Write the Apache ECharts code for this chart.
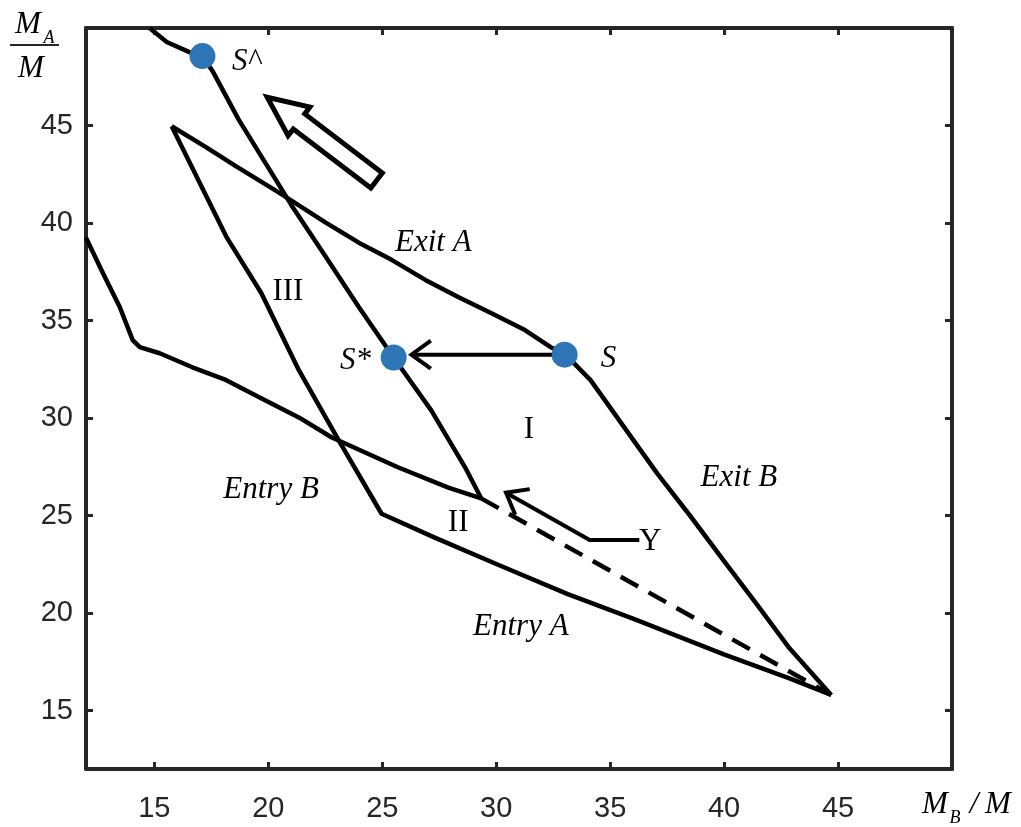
<!DOCTYPE html>
<html>
<head>
<meta charset="utf-8">
<title>Exit and entry boundaries</title>
<script src="https://cdn.jsdelivr.net/npm/echarts@6/dist/echarts.min.js"></script>
<style>
  html, body { margin: 0; padding: 0; background: #ffffff; }
  #chart { width: 1021px; height: 827px; }
</style>
</head>
<body>
<div id="chart"></div>
<script>
// Tick values on both axes
const xTicks = [15, 20, 25, 30, 35, 40, 45];
const yTicks = [15, 20, 25, 30, 35, 40, 45];

// Boundary curves as [M_B/M, M_A/M] pairs
const entryBCurve = [[12.0, 39.24], [12.74, 37.44], [13.48, 35.69], [14.05, 33.99], [14.36, 33.63],
  [15.23, 33.32], [16.67, 32.60], [18.16, 31.94], [19.6, 31.06], [21.34, 30.03], [22.79, 29.0],
  [25.71, 27.46], [27.9, 26.43], [29.34, 25.88]];
const entryBDashed = [[29.34, 25.88], [44.7, 15.8]];
const shiftedCurve = [[14.79, 50.0], [15.54, 49.28], [16.54, 48.76], [17.11, 48.56], [17.55, 47.8],
  [18.7, 45.3], [21.0, 40.94], [22.52, 38.27], [23.97, 35.69], [25.49, 33.12], [27.15, 30.39],
  [28.64, 27.46], [29.34, 25.88]];
const entryACurve = [[15.76, 44.96], [18.16, 39.29], [19.69, 36.41], [21.34, 32.45], [23.09, 28.85],
  [24.97, 25.09], [27.33, 23.85], [30.21, 22.41], [33.14, 20.97], [36.06, 19.69], [39.99, 17.88],
  [42.87, 16.65], [44.7, 15.8]];
const exitCurve = [[15.76, 44.96], [17.28, 43.88], [18.59, 42.90], [20.47, 41.56], [22.52, 40.02],
  [23.97, 38.99], [25.41, 38.11], [26.89, 37.08], [28.33, 36.21], [29.77, 35.38], [31.26, 34.51],
  [32.39, 33.63], [33.0, 33.3], [34.14, 31.94], [35.62, 29.52], [37.07, 27.15], [38.5, 25.0],
  [39.99, 22.67], [41.43, 20.46], [42.87, 18.19], [44.7, 15.8]];

// Equilibrium points
const pointNames = ['S^', 'S*', 'S'];
const pointValues = [[17.11, 48.56], [25.5, 33.1], [33.0, 33.25]];

// Arrows: S toward S*, pointer from label Y, and the hollow shift arrow
const moveArrow = [[33.0, 33.25], [26.28, 33.25]];
const pointerArrow = [[36.28, 23.75], [34.1, 23.75], [30.43, 26.17]];
const shiftArrow = [[24.75, 42.18], [19.95, 46.45]];

// Text annotations: [text, x, y, italic]
const annotations = [
  ['S^', 19.03, 48.25, true],
  ['S*', 23.83, 32.92, true],
  ['S', 34.93, 33.02, true],
  ['Exit A', 27.24, 38.99, true],
  ['Exit B', 40.65, 26.95, true],
  ['Entry B', 20.12, 26.33, true],
  ['Entry A', 31.08, 19.28, true],
  ['I', 31.43, 29.37, false],
  ['II', 28.33, 24.63, false],
  ['III', 20.86, 36.47, false],
  ['Y', 36.76, 23.65, false]
];

const ink = '#262626';
const serif = '"Liberation Serif", "Times New Roman", serif';
const sans = '"Liberation Sans", Arial, sans-serif';

function curve(data, dashed) {
  return {
    type: 'line', data: data, showSymbol: false, silent: true, z: 2,
    lineStyle: { color: '#000', width: 4.5, type: dashed ? [20, 12] : 'solid', cap: 'butt', join: 'round' }
  };
}

function vHead(tip, from, len, angleDeg) {
  const dx = from[0] - tip[0], dy = from[1] - tip[1];
  const d = Math.hypot(dx, dy);
  const ux = dx / d, uy = dy / d;
  const a = angleDeg * Math.PI / 180;
  const rot = (s) => [tip[0] + len * (ux * Math.cos(s * a) - uy * Math.sin(s * a)),
                      tip[1] + len * (ux * Math.sin(s * a) + uy * Math.cos(s * a))];
  return [rot(1), tip, rot(-1)];
}

const option = {
  animation: false,
  backgroundColor: '#ffffff',
  grid: { left: 86, right: 69, top: 28, bottom: 58, containLabel: false },
  xAxis: [
    {
      type: 'value', min: 12, max: 50, position: 'bottom',
      axisLine: { show: true, onZero: false, lineStyle: { color: ink, width: 4 } },
      axisTick: { show: true, inside: true, length: 7, customValues: xTicks, lineStyle: { color: ink, width: 3 } },
      axisLabel: { show: true, customValues: xTicks, color: ink, fontSize: 29, fontFamily: sans, margin: 25 },
      splitLine: { show: false }
    },
    {
      type: 'value', min: 12, max: 50, position: 'top',
      axisLine: { show: true, onZero: false, lineStyle: { color: ink, width: 4 } },
      axisTick: { show: true, inside: true, length: 7, customValues: xTicks, lineStyle: { color: ink, width: 3 } },
      axisLabel: { show: false },
      splitLine: { show: false }
    }
  ],
  yAxis: [
    {
      type: 'value', min: 12, max: 50, position: 'left',
      axisLine: { show: true, onZero: false, lineStyle: { color: ink, width: 4 } },
      axisTick: { show: true, inside: true, length: 7, customValues: yTicks, lineStyle: { color: ink, width: 3 } },
      axisLabel: { show: true, customValues: yTicks, color: ink, fontSize: 29, fontFamily: sans, margin: 13 },
      splitLine: { show: false }
    },
    {
      type: 'value', min: 12, max: 50, position: 'right',
      axisLine: { show: true, onZero: false, lineStyle: { color: ink, width: 4 } },
      axisTick: { show: true, inside: true, length: 7, customValues: yTicks, lineStyle: { color: ink, width: 3 } },
      axisLabel: { show: false },
      splitLine: { show: false }
    }
  ],
  graphic: [
    // y-axis title: M_A / M as a stacked fraction
    { type: 'text', x: 28, y: 25, style: { text: 'M', font: 'italic 31px ' + serif, fill: '#000', align: 'center', verticalAlign: 'middle' } },
    { type: 'text', x: 49, y: 38, style: { text: 'A', font: 'italic 18px ' + serif, fill: '#000', align: 'center', verticalAlign: 'middle' } },
    { type: 'line', shape: { x1: 10, y1: 45, x2: 59, y2: 45 }, style: { stroke: ink, lineWidth: 2 } },
    { type: 'text', x: 31, y: 69, style: { text: 'M', font: 'italic 31px ' + serif, fill: '#000', align: 'center', verticalAlign: 'middle' } },
    // x-axis title: M_B / M
    { type: 'text', x: 935, y: 805, style: { text: 'M', font: 'italic 31px ' + serif, fill: '#000', align: 'center', verticalAlign: 'middle' } },
    { type: 'text', x: 955, y: 818, style: { text: 'B', font: 'italic 18px ' + serif, fill: '#000', align: 'center', verticalAlign: 'middle' } },
    { type: 'text', x: 974, y: 805, style: { text: '/', font: 'italic 31px ' + serif, fill: '#000', align: 'center', verticalAlign: 'middle' } },
    { type: 'text', x: 998, y: 805, style: { text: 'M', font: 'italic 31px ' + serif, fill: '#000', align: 'center', verticalAlign: 'middle' } }
  ],
  series: [
    curve(entryBCurve, false),
    curve(entryBDashed, true),
    curve(shiftedCurve, false),
    curve(entryACurve, false),
    curve(exitCurve, false),
    {
      // S -> S* arrow
      type: 'custom', coordinateSystem: 'cartesian2d', silent: true, z: 3,
      data: [[moveArrow[0][0], moveArrow[0][1], moveArrow[1][0], moveArrow[1][1]]],
      encode: { x: [0, 2], y: [1, 3] },
      renderItem: function (params, api) {
        const a = api.coord([api.value(0), api.value(1)]);
        const b = api.coord([api.value(2), api.value(3)]);
        return {
          type: 'group', children: [
            { type: 'line', shape: { x1: a[0], y1: a[1], x2: b[0] + 2, y2: b[1] }, style: { stroke: '#000', lineWidth: 4 } },
            { type: 'polyline', shape: { points: vHead(b, a, 24, 36) }, style: { stroke: '#000', lineWidth: 4, fill: null, lineJoin: 'miter' } }
          ]
        };
      }
    },
    {
      // pointer from the Y label
      type: 'custom', coordinateSystem: 'cartesian2d', silent: true, z: 3,
      data: [[pointerArrow[0][0], pointerArrow[0][1], pointerArrow[1][0], pointerArrow[1][1], pointerArrow[2][0], pointerArrow[2][1]]],
      encode: { x: [0, 2, 4], y: [1, 3, 5] },
      renderItem: function (params, api) {
        const p0 = api.coord([api.value(0), api.value(1)]);
        const p1 = api.coord([api.value(2), api.value(3)]);
        const p2 = api.coord([api.value(4), api.value(5)]);
        return {
          type: 'group', children: [
            { type: 'polyline', shape: { points: [p0, p1, p2] }, style: { stroke: '#000', lineWidth: 4, fill: null, lineJoin: 'miter' } },
            { type: 'polyline', shape: { points: vHead(p2, p1, 24, 38) }, style: { stroke: '#000', lineWidth: 4, fill: null, lineJoin: 'miter' } }
          ]
        };
      }
    },
    {
      // hollow block arrow
      type: 'custom', coordinateSystem: 'cartesian2d', silent: true, z: 3,
      data: [[shiftArrow[0][0], shiftArrow[0][1], shiftArrow[1][0], shiftArrow[1][1]]],
      encode: { x: [0, 2], y: [1, 3] },
      renderItem: function (params, api) {
        const t = api.coord([api.value(0), api.value(1)]);
        const p = api.coord([api.value(2), api.value(3)]);
        const dx = p[0] - t[0], dy = p[1] - t[1];
        const L = Math.hypot(dx, dy);
        const ux = dx / L, uy = dy / L;
        const nx = -uy, ny = ux;
        const headLen = 40, headHalf = 18, shaftHalf = 9.5;
        const b = [p[0] - ux * headLen, p[1] - uy * headLen];
        const pts = [
          [t[0] + nx * shaftHalf, t[1] + ny * shaftHalf],
          [b[0] + nx * shaftHalf, b[1] + ny * shaftHalf],
          [b[0] + nx * headHalf, b[1] + ny * headHalf],
          p,
          [b[0] - nx * headHalf, b[1] - ny * headHalf],
          [b[0] - nx * shaftHalf, b[1] - ny * shaftHalf],
          [t[0] - nx * shaftHalf, t[1] - ny * shaftHalf]
        ];
        return { type: 'polygon', shape: { points: pts }, style: { fill: '#fff', stroke: '#000', lineWidth: 5, lineJoin: 'miter' } };
      }
    },
    {
      // text annotations
      type: 'custom', coordinateSystem: 'cartesian2d', silent: true, z: 5,
      data: annotations.map(function (a, i) { return [a[1], a[2], i]; }),
      encode: { x: 0, y: 1 },
      renderItem: function (params, api) {
        const c = api.coord([api.value(0), api.value(1)]);
        const a = annotations[api.value(2)];
        return {
          type: 'text', x: c[0], y: c[1],
          style: {
            text: a[0], fill: '#000', align: 'center', verticalAlign: 'middle',
            font: (a[3] ? 'italic ' : '') + '31px ' + serif
          }
        };
      }
    },
    {
      type: 'scatter', silent: true, z: 6,
      data: pointValues.map(function (v, i) { return { name: pointNames[i], value: v }; }),
      symbol: 'circle', symbolSize: 26,
      itemStyle: { color: '#2E75B6', opacity: 1 }
    }
  ]
};

const chart = echarts.init(document.getElementById('chart'), null, { renderer: 'canvas' });
chart.setOption(option);
</script>
</body>
</html>
